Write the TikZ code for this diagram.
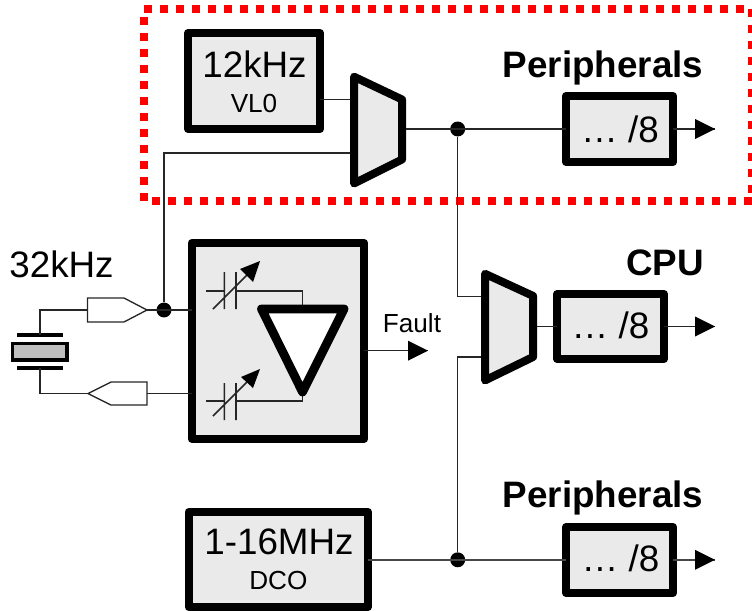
\documentclass[tikz,border=0pt]{standalone}
\usepackage{fontspec}
\setmainfont{Liberation Sans}
\usetikzlibrary{calc}
\definecolor{boxfill}{HTML}{EAEAEA}
\definecolor{xtal}{HTML}{BEBEBE}
\tikzset{
  wire/.style={line width=1.15pt,draw=black!85},
  heavy wire/.style={line width=1.5pt,draw=black!72},
  thin shape/.style={line width=1pt,draw=black!85,fill=white},
  block/.style={line width=6pt,draw=black,fill=boxfill,line join=round,inner sep=0pt,outer sep=0pt},
  frame/.style={red,line width=6pt,dash pattern=on 6pt off 6pt},
  jn/.style={circle,fill=black,minimum size=11.2pt,inner sep=0pt},
  big/.style={inner sep=0pt,anchor=base,font=\fontsize{27.6}{27.6}\selectfont},
  bigb/.style={inner sep=0pt,anchor=base,font=\bfseries\fontsize{27.6}{27.6}\selectfont},
  small/.style={inner sep=0pt,anchor=base,font=\fontsize{19.6}{19.6}\selectfont},
}
\newcommand{\arrowto}[1]{\fill[black] ($(#1)+(-20,-10)$) -- (#1) -- ($(#1)+(-20,10)$) -- cycle;}
\newcommand{\pxbox}[5]{\node[block,minimum width=#4*0.75pt,minimum height=#5*0.75pt] (#1) at (#2,#3) {};}
\begin{document}
\begin{tikzpicture}[x=0.75pt,y=-0.75pt]
\useasboundingbox (0,0) rectangle (752,610);
% red frame
\draw[frame] (144,9) -- (752,9);
\draw[frame] (752,9) -- (752,193);
\draw[frame] (152,201) -- (752,201);
\draw[frame] (144,17) -- (144,201);
% blocks
\pxbox{vlo}{254}{81}{132}{96}
\pxbox{pa}{619.5}{129}{107}{66}
\pxbox{pb}{610.5}{326.5}{107}{65}
\pxbox{pc}{619.5}{560}{107}{66}
\pxbox{dco}{278.25}{559.5}{179.5}{95}
\pxbox{osc}{278}{341}{172.6}{196}
% multiplexers
\draw[block] (354,76.7) -- (402,99.5) -- (402,159.5) -- (354,183.5) -- cycle;
\draw[block] (485,273.8) -- (533,295.9) -- (533,357) -- (485,380.4) -- cycle;
\coordinate (m1a) at (350,99.3);
\coordinate (m1b) at (350,153);
\coordinate (m1o) at (406,129);
\coordinate (m2a) at (481,296.7);
\coordinate (m2b) at (481,357);
\coordinate (m2o) at (537,326.5);
% junctions
\node[jn] (j1) at (457.7,129) {};
\node[jn] (j2) at (457.7,559.8) {};
\node[jn] (j3) at (164,310) {};
% buffers and crystal
\draw[thin shape] (87.5,298) -- (124,298) -- (147,310) -- (124,322) -- (87.5,322) -- cycle;
\draw[thin shape] (88,393.5) -- (111,382) -- (147,382) -- (147,405) -- (111,405) -- cycle;
\coordinate (b1i) at (87.5,310);
\coordinate (b1o) at (147,310);
\coordinate (b2o) at (88,393.5);
\coordinate (b2i) at (147,393.5);
\coordinate (xa) at (40,335);
\coordinate (xb) at (40,368);
\draw[line width=2.3pt] (17,335) -- (63,335) (17,368) -- (63,368);
\draw[line width=2.5pt,fill=xtal] (12.5,343.5) rectangle (67,360);
% wires
\draw[wire] (vlo.east |- m1a) -- (m1a);
\draw[wire] (j3) |- (m1b);
\draw[wire] (m1o) -- (pa.west |- m1o);
\draw[wire] (j1) |- (m2a);
\draw[heavy wire] (dco.east |- j2) -- (pc.west |- j2);
\draw[wire] (j2) |- (m2b);
\draw[wire] (m2o) -- (pb.west |- m2o);
\draw[wire] (b1o) -- (osc.west |- b1o);
\draw[wire] (b2i) -- (osc.west |- b2i);
\draw[wire] (b1i) -| (xa);
\draw[wire] (b2o) -| (xb);
% inside oscillator block
\coordinate (ca) at (236,291);
\coordinate (cb) at (236,401);
\draw[wire] (ca) -| (302.5,309);
\draw[wire] (cb) -| (302.5,392);
\draw[block,fill=white,line width=6.6pt] (261.5,309) -- (344,309) -- (302.5,392) -- cycle;
\draw[wire] (206,291) -- (224.3,291) (224.3,272) -- (224.3,309) (236,272) -- (236,309) (213,309) -- (248,274);
\fill[black] (260,261) -- (240,269) -- (253,282) -- cycle;
\draw[wire] (206,401) -- (224.3,401) (224.3,383) -- (224.3,420) (236,383) -- (236,420) (213,416) -- (248,381);
\fill[black] (260,369) -- (241,377) -- (253,388) -- cycle;
% fault
\coordinate (ft) at (428,350.7);
\draw[wire] (osc.east |- ft) -- (ft);
\arrowto{ft}
\node[small] (tf) at (412,332) {Fault};
% out arrows
\coordinate (a1) at (715,129); \coordinate (a2) at (715,326.5); \coordinate (a3) at (715,559.8);
\draw[wire] (pa.east |- a1) -- (a1); \arrowto{a1}
\draw[wire] (pb.east |- a2) -- (a2); \arrowto{a2}
\draw[heavy wire] (pc.east |- a3) -- (a3); \arrowto{a3}
% texts
\node[big] (t12) at (254.5,77) {12kHz};
\node[small] (tvl) at (254,112) {VL0};
\node[big] (ta) at (620,142) {… /8};
\node[bigb] (tpa) at (603,77) {Peripherals};
\node[big] (tb) at (610.5,338) {… /8};
\node[bigb] (tcpu) at (665,275) {CPU};
\node[big] (tc) at (620.5,571.7) {… /8};
\node[bigb] (tpc) at (603,507.7) {Peripherals};
\node[big] (t16) at (279,554) {1-16MHz};
\node[small] (tdco) at (278.3,589) {DCO};
\node[big] (t32) at (61.5,277.7) {32kHz};
\end{tikzpicture}
\end{document}
